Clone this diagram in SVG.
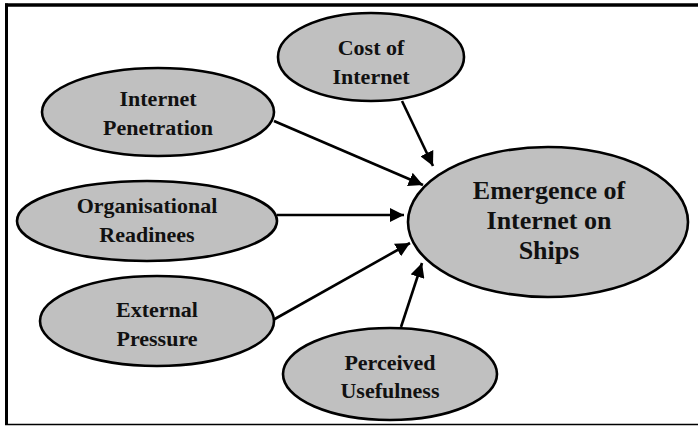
<svg xmlns="http://www.w3.org/2000/svg" width="698" height="427" viewBox="0 0 698 427">
  <style>
    .node ellipse { fill: #c0c0c0; stroke: #000; stroke-width: 2.6; }
    .node text { font-family: "Liberation Serif", "Times New Roman", serif; font-weight: bold; font-size: 22px; fill: #111; text-anchor: middle; }
    #emergence text { font-size: 26px; }
    .edge { stroke: #000; stroke-width: 2.6; fill: none; marker-end: url(#arrow); }
    .frame { stroke: #000; fill: none; }
  </style>
  <defs>
    <marker id="arrow" viewBox="0 0 10 10" refX="10" refY="5" markerWidth="5.5" markerHeight="5.5" orient="auto" markerUnits="strokeWidth">
      <path d="M0,0 L10,5 L0,10 z" fill="#000"/>
    </marker>
  </defs>

  <rect width="698" height="427" fill="#fff"/>

  <!-- frame -->
  <g id="frame">
    <line class="frame" x1="5" y1="5" x2="698" y2="5" stroke-width="3.6"/>
    <line class="frame" x1="6.5" y1="3.5" x2="6.5" y2="425" stroke-width="3"/>
    <line class="frame" x1="5" y1="424.5" x2="698" y2="424.5" stroke-width="1.6"/>
  </g>

  <!-- connectors -->
  <g id="connectors">
    <line class="edge" x1="402" y1="101" x2="433" y2="166"/>
    <line class="edge" x1="274" y1="121" x2="423" y2="185"/>
    <line class="edge" x1="277" y1="215" x2="404" y2="215"/>
    <line class="edge" x1="273" y1="320" x2="410" y2="243"/>
    <line class="edge" x1="401" y1="327" x2="422" y2="263"/>
  </g>

  <g id="cost" class="node">
    <ellipse cx="371" cy="57" rx="93" ry="44"/>
    <text x="371" y="55">Cost of</text>
    <text x="371" y="84">Internet</text>
  </g>

  <g id="penetration" class="node">
    <ellipse cx="158" cy="112" rx="116" ry="44"/>
    <text x="158" y="106">Internet</text>
    <text x="158" y="135">Penetration</text>
  </g>

  <g id="readiness" class="node">
    <ellipse cx="147" cy="221" rx="130" ry="40"/>
    <text x="147" y="213">Organisational</text>
    <text x="147" y="242">Readinees</text>
  </g>

  <g id="pressure" class="node">
    <ellipse cx="157" cy="321" rx="117" ry="45"/>
    <text x="157" y="317">External</text>
    <text x="157" y="346">Pressure</text>
  </g>

  <g id="usefulness" class="node">
    <ellipse cx="390" cy="374" rx="107" ry="46"/>
    <text x="390" y="370">Perceived</text>
    <text x="390" y="398">Usefulness</text>
  </g>

  <g id="emergence" class="node">
    <ellipse cx="548" cy="222" rx="140" ry="75"/>
    <text x="549" y="199">Emergence of</text>
    <text x="549" y="229">Internet on</text>
    <text x="549" y="259">Ships</text>
  </g>
</svg>
